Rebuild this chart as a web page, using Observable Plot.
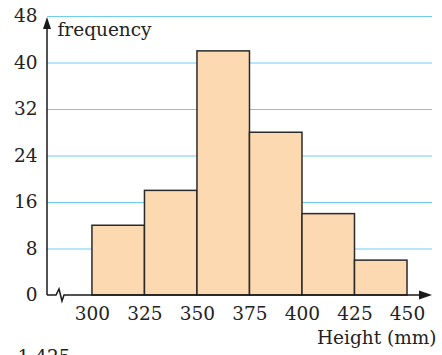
<!DOCTYPE html>
<html>
<head>
<meta charset="utf-8">
<script src="https://cdn.jsdelivr.net/npm/d3@7"></script>
<script src="https://cdn.jsdelivr.net/npm/@observablehq/plot@0.6"></script>
<style>
  html, body { margin: 0; padding: 0; background: #fff; }
  #chart svg { overflow: hidden; }
</style>
</head>
<body>
<div id="chart"></div>
<script>
// Data
const binStart = [300, 325, 350, 375, 400, 425];
const binEnd   = [325, 350, 375, 400, 425, 450];
const frequency = [12, 18, 42, 28, 14, 6];
const xTicks = [300, 325, 350, 375, 400, 425, 450];
const yTicks = [0, 8, 16, 24, 32, 40, 48];
const yGrid = [8, 16, 24, 32, 40, 48];
const xLabel = "Height (mm)";
const yLabel = "frequency";
const fragment = "1 425";

const bars = binStart.map((s, i) => ({x1: s, x2: binEnd[i], y: frequency[i]}));

const FONT = "DejaVu Serif";
const FS = 18.5;

function axes(index, scales, values, dims) {
  const g = d3.create("svg:g");
  const x0 = dims.marginLeft;
  const x1 = dims.width - dims.marginRight;
  const y0 = scales.y(0);
  const yTop = scales.y(48) + 1;
  g.append("line").attr("x1", x0).attr("x2", x0).attr("y1", y0).attr("y2", yTop + 10)
    .attr("stroke", "#1a1a1a").attr("stroke-width", 1.5);
  g.append("path").attr("d", `M${x0},${yTop} L${x0 - 4},${yTop + 12} L${x0 + 4},${yTop + 12} Z`).attr("fill", "#1a1a1a");
  const b = x0 + 9;
  g.append("path")
    .attr("d", `M${x0},${y0} L${b},${y0} L${b + 3},${y0 - 6} L${b + 6},${y0 + 6} L${b + 8},${y0} L${x1 - 10},${y0}`)
    .attr("fill", "none").attr("stroke", "#1a1a1a").attr("stroke-width", 1.5).attr("stroke-linejoin", "miter");
  g.append("path").attr("d", `M${x1},${y0} L${x1 - 13},${y0 - 4.5} L${x1 - 13},${y0 + 4.5} Z`).attr("fill", "#1a1a1a");
  return g.node();
}

const chart = Plot.plot({
  width: 442,
  height: 355,
  marginLeft: 47,
  marginRight: 10,
  marginTop: 16,
  marginBottom: 60,
  style: {fontFamily: FONT, fontSize: FS + "px", color: "#222", background: "#fff"},
  x: {domain: [278.6, 461.9]},
  y: {domain: [0, 48]},
  marks: [
    Plot.ruleY(yGrid, {stroke: "#6fcdf2", strokeWidth: 1.2}),
    Plot.rectY(bars, {x1: "x1", x2: "x2", y: "y", fill: "#fdd9b1", stroke: "#2a2a2a", strokeWidth: 1.5}),
    Plot.axisX({ticks: xTicks, tickSize: 0, tickPadding: 11, fontSize: FS, fontFamily: FONT, fill: "#222", label: null}),
    Plot.axisY({ticks: yTicks, tickSize: 0, tickPadding: 10, fontSize: FS, fontFamily: FONT, fill: "#222", label: null}),
    axes,
    Plot.text([yLabel], {frameAnchor: "top-left", dx: 10, dy: 14, textAnchor: "start", lineAnchor: "middle", fontSize: FS, fontFamily: FONT, fill: "#222"}),
    Plot.text([xLabel], {frameAnchor: "bottom-right", dx: 4, dy: 43, textAnchor: "end", lineAnchor: "middle", fontSize: FS, fontFamily: FONT, fill: "#222"}),
    Plot.text([fragment], {frameAnchor: "bottom-left", dx: -30, dy: 62, textAnchor: "start", lineAnchor: "middle", fontSize: FS, fontFamily: FONT, fill: "#222"})
  ]
});
document.getElementById("chart").appendChild(chart);
</script>
</body>
</html>
